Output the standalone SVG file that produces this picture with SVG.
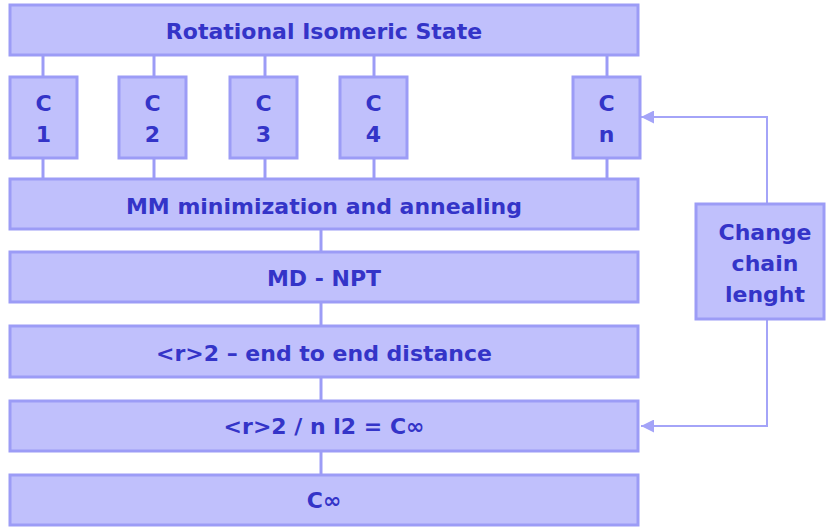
<svg xmlns="http://www.w3.org/2000/svg" width="826" height="527" viewBox="0 0 826 527">
<style>
.box{fill:#C0C0FC;stroke:#9C9CF6;stroke-width:3}
.t{font-family:"DejaVu Sans",sans-serif;font-size:22px;fill:#3434C8;text-anchor:middle;dominant-baseline:central;font-weight:bold}
.ln{stroke:#9C9CF6;stroke-width:3;fill:none}
.fb{stroke:#A4A4F8;stroke-width:2;fill:none}
</style>
<defs>
<marker id="ah" viewBox="0 0 10 10" refX="10" refY="5" markerWidth="13" markerHeight="13" markerUnits="userSpaceOnUse" orient="auto">
<path d="M0,0 L10,5 L0,10 z" fill="#A4A4F8"/>
</marker>
</defs>
<g id="connectors">
<line class="ln" x1="43" y1="55" x2="43" y2="77"/>
<line class="ln" x1="154" y1="55" x2="154" y2="77"/>
<line class="ln" x1="265" y1="55" x2="265" y2="77"/>
<line class="ln" x1="374" y1="55" x2="374" y2="77"/>
<line class="ln" x1="607" y1="55" x2="607" y2="77"/>
<line class="ln" x1="43" y1="158" x2="43" y2="179"/>
<line class="ln" x1="154" y1="158" x2="154" y2="179"/>
<line class="ln" x1="265" y1="158" x2="265" y2="179"/>
<line class="ln" x1="374" y1="158" x2="374" y2="179"/>
<line class="ln" x1="607" y1="158" x2="607" y2="179"/>
<line class="ln" x1="321" y1="229" x2="321" y2="252"/>
<line class="ln" x1="321" y1="302" x2="321" y2="326"/>
<line class="ln" x1="321" y1="377" x2="321" y2="401"/>
<line class="ln" x1="321" y1="451" x2="321" y2="475"/>
<polyline class="fb" points="767,204 767,117 641,117" marker-end="url(#ah)"/>
<polyline class="fb" points="767,319 767,426 641,426" marker-end="url(#ah)"/>
</g>
<g id="ris"><rect class="box" x="10" y="5" width="628" height="50"/><text class="t" x="324" y="31">Rotational Isomeric State</text></g>
<g id="c1"><rect class="box" x="10" y="77" width="67" height="81"/><text class="t" x="43.5" y="103">C</text><text class="t" x="43.5" y="134">1</text></g>
<g id="c2"><rect class="box" x="119" y="77" width="67" height="81"/><text class="t" x="152.5" y="103">C</text><text class="t" x="152.5" y="134">2</text></g>
<g id="c3"><rect class="box" x="230" y="77" width="67" height="81"/><text class="t" x="263.5" y="103">C</text><text class="t" x="263.5" y="134">3</text></g>
<g id="c4"><rect class="box" x="340" y="77" width="67" height="81"/><text class="t" x="373.5" y="103">C</text><text class="t" x="373.5" y="134">4</text></g>
<g id="cn"><rect class="box" x="573" y="77" width="67" height="81"/><text class="t" x="606.5" y="103">C</text><text class="t" x="606.5" y="134">n</text></g>
<g id="mm"><rect class="box" x="10" y="179" width="628" height="50"/><text class="t" x="324" y="206">MM minimization and annealing</text></g>
<g id="md"><rect class="box" x="10" y="252" width="628" height="50"/><text class="t" x="324" y="278">MD - NPT</text></g>
<g id="r2"><rect class="box" x="10" y="326" width="628" height="51"/><text class="t" x="324" y="353">&lt;r&gt;2 – end to end distance</text></g>
<g id="ratio"><rect class="box" x="10" y="401" width="628" height="50"/><text class="t" x="324" y="426">&lt;r&gt;2 / n l2 = C∞</text></g>
<g id="cinf"><rect class="box" x="10" y="475" width="628" height="50"/><text class="t" x="324" y="500">C∞</text></g>
<g id="change"><rect class="box" x="696" y="204" width="128" height="115"/><text class="t" x="765" y="232">Change</text><text class="t" x="765" y="263">chain</text><text class="t" x="765" y="294">lenght</text></g>
</svg>
